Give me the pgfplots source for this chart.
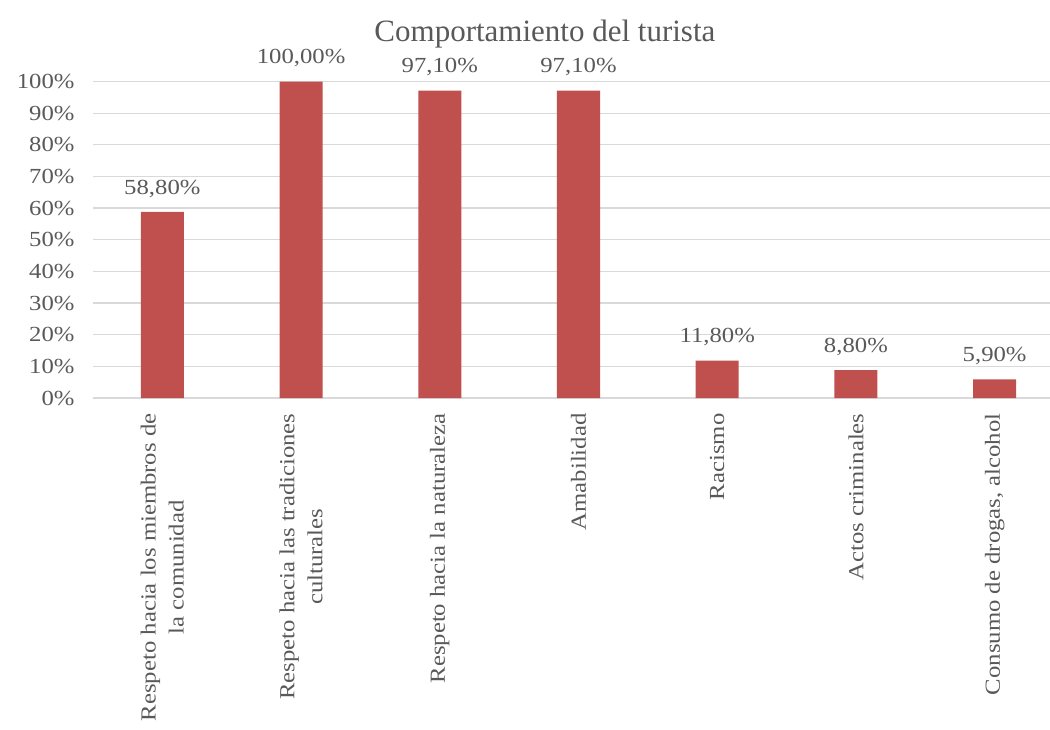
\documentclass[border=0pt]{standalone}
\usepackage{pgfplots}
\pgfplotsset{compat=1.18}
\usepackage{fontspec}
\setmainfont{Liberation Serif}
\newfontfamily\cam[FakeStretch=1.15]{Liberation Serif}
\definecolor{barred}{HTML}{C0504D}
\definecolor{txtgray}{HTML}{595959}
\definecolor{gridgray}{HTML}{D9D9D9}
\pgfplotstableread{
x y
0 58.8
1 100
2 97.1
3 97.1
4 11.8
5 8.8
6 5.9
}\datatable
\begin{document}
\begin{tikzpicture}[x=1pt,y=1pt]
\path[use as bounding box] (-93,-331) rectangle (957,398);
\begin{axis}[
  at={(0,0)}, anchor=south west,
  scale only axis,
  width=971pt, height=316.5pt,
  xmin=-0.5, xmax=6.5,
  ymin=0, ymax=100,
  axis line style={draw=none},
  ytick={0,10,...,100},
  xtick={0,...,6},
  xticklabels={{Respeto hacia los miembros de\\la comunidad},{Respeto hacia las tradiciones\\culturales},{Respeto hacia la naturaleza},{Amabilidad},{Racismo},{Actos criminales},{Consumo de drogas, alcohol}},
  major tick style={draw=none},
  ymajorgrids,
  grid style={gridgray, line width=1.3pt},
  yticklabel={\pgfmathprintnumber{\tick}\%},
  /pgf/number format/assume math mode=true,
  yticklabel style={font=\cam\fontsize{21.5}{24}\selectfont, text=txtgray, xshift=-15pt},
  xticklabel style={font=\cam\fontsize{21.5}{28}\selectfont, text=txtgray, rotate=90, anchor=east, align=center, yshift=0pt, xshift=-12pt},
  clip=false,
]
\addplot[ybar, bar width=43pt, fill=barred, draw=none,
  nodes near coords={\pgfmathprintnumber[fixed,fixed zerofill,precision=2,use comma]{\pgfplotspointmeta}\%},
  nodes near coords style={font=\cam\fontsize{21.5}{24}\selectfont, text=txtgray, anchor=south, yshift=11pt},
] table[x=x,y=y] {\datatable};
\node[font=\fontsize{31}{34}\selectfont, text=txtgray] at (axis cs:2.758,115) {Comportamiento del turista};
\end{axis}
\end{tikzpicture}
\end{document}
